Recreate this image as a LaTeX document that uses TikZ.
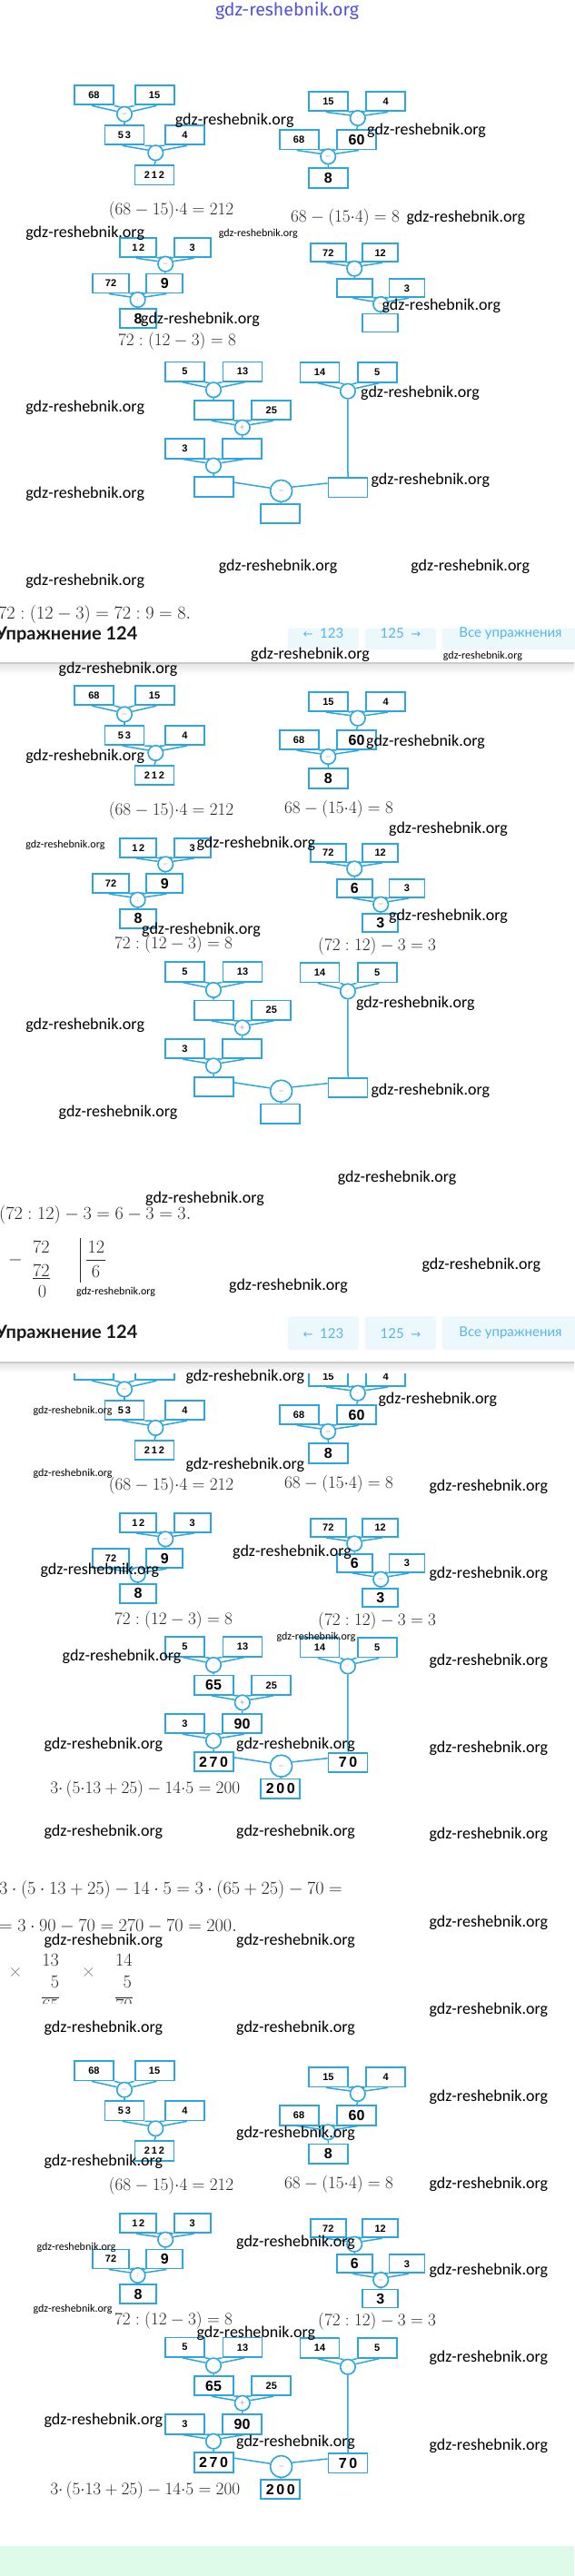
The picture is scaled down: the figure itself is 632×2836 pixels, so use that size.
\RequirePackage{fix-cm}
\documentclass[tikz,border=0pt]{standalone}
\usepackage{fontspec}
\usetikzlibrary{calc}
\newfontfamily\wmf{Carlito}
\newfontfamily\labf{Liberation Sans}
\newfontfamily\hdrf{Lato}
\newfontfamily\topf{Fira Sans}
\newfontfamily\djv{DejaVu Sans}
\definecolor{bl}{HTML}{2CA6DF}
\definecolor{btnbg}{HTML}{EDF8FD}
\definecolor{btntx}{HTML}{56B6E8}
\definecolor{mint}{HTML}{DDFBE8}
\definecolor{eqc}{HTML}{262626}
\definecolor{topbl}{HTML}{5050E0}
\newcommand\lab{\labf\bfseries\fontsize{11}{11}\selectfont}
\newcommand\fil[1]{{\labf\bfseries\fontsize{16}{16}\selectfont #1}}
\newcommand\ev[2]{\ifnum#1=1 \fil{#2}\fi}
\tikzset{
 bxa/.style={draw=bl, line width=1.9pt, minimum width=43pt, minimum height=21.5pt, inner sep=0pt, font=\lab, text=black},
 bxc/.style={bxa, minimum width=40pt, minimum height=21pt},
 bxd/.style={bxa, minimum width=39pt, minimum height=20pt},
 opc/.style={circle, draw=bl, line width=1.6pt, minimum size=16.5pt, inner sep=0pt, fill=white, font=\fontsize{8}{8}\selectfont, text=black!60},
 bigop/.style={opc, minimum size=24pt},
 ln/.style={draw=bl, line width=1.5pt},
 wm/.style={anchor=west, inner sep=0pt, font=\wmf\fontsize{18}{18}\selectfont, text=black},
 wms/.style={wm, font=\wmf\fontsize{12}{12}\selectfont},
 eq/.style={anchor=west, inner sep=0pt, font=\fontsize{19.2}{22}\selectfont, text=eqc},
 eqb/.style={eq, font=\fontsize{20.2}{23}\selectfont},
 btn/.style={fill=btnbg, rounded corners=3pt},
 btnt/.style={inner sep=0pt, text=btntx, font=\hdrf\fontsize{15}{15}\selectfont},
 hdr/.style={anchor=west, inner sep=0pt, font=\hdrf\bfseries\fontsize{20}{20}\selectfont, text=black!90},
}
\newcommand\fun[3]{%
 \draw[ln] ($(#1.south west)!0.45!(#1.south east)$) -- (#3.160);
 \draw[ln] (#1.south east) -- (#3.120);
 \draw[ln] (#2.south west) -- (#3.60);
 \draw[ln] ($(#2.south west)!0.55!(#2.south east)$) -- (#3.20);}
\newcommand\down[2]{\draw[ln] (#1.south) -- (#2.north);}
% #1 prefix, #2 dy, #3 D filled, #4 E filled
\newcommand\trees[4]{%
\begin{scope}[yshift=-#2pt]
% tree A
\node[bxa] (#1a1) at (103.4,104.7) {68};
\node[bxa] (#1a2) at (170.1,104.7) {15};
\node[opc] (#1ac) at (137,125.7) {$-$};
\node[bxa] (#1a3) at (137,148.7) {5\,3};
\node[bxa] (#1a4) at (203.5,148.7) {4};
\node[opc] (#1ad) at (171.3,168.3) {$\cdot$};
\node[bxa] (#1a5) at (170,192.8) {2\,1\,2};
\fun{#1a1}{#1a2}{#1ac}\down{#1ac}{#1a3}
\fun{#1a3}{#1a4}{#1ad}\down{#1ad}{#1a5}
% tree B
\node[bxa] (#1b1) at (361.4,111.7) {15};
\node[bxa] (#1b2) at (424.6,111.7) {4};
\node[opc] (#1bc) at (393.8,130) {$\cdot$};
\node[bxa] (#1b3) at (329.1,153.8) {68};
\node[bxa] (#1b4) at (392.6,153.8) {\fil{60}};
\node[opc] (#1bd) at (361.2,172.3) {$-$};
\node[bxa] (#1b5) at (361.4,196.2) {\fil{8}};
\fun{#1b1}{#1b2}{#1bc}\down{#1bc}{#1b4}
\fun{#1b3}{#1b4}{#1bd}\down{#1bd}{#1b5}
% tree C
\node[bxc] (#1c1) at (152.3,272.8) {1\,2};
\node[bxc] (#1c2) at (211.6,272.8) {3};
\node[opc] (#1cc) at (182.2,290.7) {$-$};
\node[bxc] (#1c3) at (122.1,312) {72};
\node[bxc] (#1c4) at (181.3,312) {\fil{9}};
\node[opc] (#1cd) at (151.6,330) {$:$};
\node[bxc] (#1c5) at (152,350.5) {\fil{8}};
\fun{#1c1}{#1c2}{#1cc}\down{#1cc}{#1c4}
\fun{#1c3}{#1c4}{#1cd}\down{#1cd}{#1c5}
% tree D
\node[bxd] (#1d1) at (361.3,278.3) {72};
\node[bxd] (#1d2) at (418.7,278.3) {12};
\node[opc] (#1dc) at (390.2,295.7) {$:$};
\node[bxd] (#1d3) at (390.4,317.3) {\ev{#3}{6}};
\node[bxd] (#1d4) at (448,317.3) {3};
\node[opc] (#1dd) at (419.2,335) {$-$};
\node[bxd] (#1d5) at (418.7,355.5) {\ev{#3}{3}};
\fun{#1d1}{#1d2}{#1dc}\down{#1dc}{#1d3}
\fun{#1d3}{#1d4}{#1dd}\down{#1dd}{#1d5}
% tree E
\node[bxa] (#1e1) at (203.5,409.2) {5};
\node[bxa] (#1e2) at (267,409.2) {13};
\node[opc] (#1ec1) at (235,429.3) {$\cdot$};
\node[bxa] (#1e3) at (235.1,451.5) {\ev{#4}{65}};
\node[bxa] (#1e4) at (298.8,451.5) {25};
\node[opc] (#1ec2) at (266.8,470.7) {$+$};
\node[bxa] (#1e5) at (203.5,493.8) {3};
\node[bxa] (#1e6) at (266.6,493.8) {\ev{#4}{90}};
\node[opc] (#1ec3) at (235,512.7) {$\cdot$};
\node[bxa] (#1e7) at (235.1,535.8) {\ev{#4}{2\,7\,0}};
\node[bxa] (#1e8) at (352,410) {14};
\node[bxa] (#1e9) at (415.1,410) {5};
\node[opc] (#1ec4) at (382.9,430.7) {$\cdot$};
\node[bxa] (#1e10) at (383,536.7) {\ev{#4}{7\,0}};
\node[bigop] (#1ec5) at (309.6,540.5) {$-$};
\node[bxa] (#1e11) at (308.8,565.5) {\ev{#4}{2\,0\,0}};
\fun{#1e1}{#1e2}{#1ec1}\down{#1ec1}{#1e3}
\fun{#1e3}{#1e4}{#1ec2}\down{#1ec2}{#1e6}
\fun{#1e5}{#1e6}{#1ec3}\down{#1ec3}{#1e7}
\fun{#1e8}{#1e9}{#1ec4}\down{#1ec4}{#1e10}
\draw[ln] ($(#1e7.north east)!0.3!(#1e7.south east)$) -- (#1ec5.165);
\draw[ln] (#1ec5.20) -- ($(#1e10.north west)!0.3!(#1e10.south west)$);
\down{#1ec5}{#1e11}
\end{scope}}
\begin{document}
\begin{tikzpicture}[x=1pt,y=-1pt]
\useasboundingbox (0,0) rectangle (632,2836);
\fill[white] (0,0) rectangle (632,2836);
% top watermark
\node[inner sep=0pt, text=topbl, font=\topf\fontsize{19.5}{19.5}\selectfont] (topwm) at (316,11.5) {gdz-reshebnik.org};
% panel 1
\trees{p}{0}{0}{0}
\node[eq] (p1eqa) at (119.7,231.7) {$(68-15){\cdot}4=212$};
\node[eq] (p1eqb) at (320,240) {$68-(15{\cdot}4)=8$};
\node[eq] (p1eqc) at (129.8,376) {$72:(12-3)=8$};
\node[eqb] (p1fin) at (-2,676) {$72:(12-3)=72:9=8.$};
% header 1
\fill[btn] (316.7,691.7) rectangle (395,715);
\fill[btn] (401.7,691.7) rectangle (480,715);
\fill[btn] (486.7,691.7) rectangle (640,715);
\node[btnt] (b1a) at (356,697.5) {{\djv\fontsize{13}{13}\selectfont ←}\ \ 123};
\node[btnt] (b1b) at (441,697.5) {125\ \ {\djv\fontsize{13}{13}\selectfont →}};
\node[btnt] (b1c) at (562,697.5) {Все упражнения};
\node[hdr] (h1) at (-5,699.3) {Упражнение 124};
\fill[black!20] (0,729) rectangle (632,731);
\shade[top color=black!10, bottom color=white] (0,731) rectangle (632,742);
% panel 2
\trees{q}{660.7}{1}{0}
\node[eq] (p2eqa) at (119.7,892.7) {$(68-15){\cdot}4=212$};
\node[eq] (p2eqb) at (313,890.7) {$68-(15{\cdot}4)=8$};
\node[eq] (p2eqc) at (126,1040) {$72:(12-3)=8$};
\node[eq] (p2eqd) at (350,1041.7) {$(72:12)-3=3$};
\node[eqb] (p2fin) at (-1,1337.3) {$(72:12)-3=6-3=3.$};
% long division
\node[eqb, anchor=center] (ldm) at (17,1387) {$-$};
\node[eqb, anchor=center] (ld1) at (45.5,1373.3) {$72$};
\node[eqb, anchor=center] (ld2) at (45.5,1399.3) {$72$};
\node[eqb, anchor=center] (ld3) at (46.4,1422.3) {$0$};
\node[eqb, anchor=center] (ld4) at (105.8,1373.3) {$12$};
\node[eqb, anchor=center] (ld5) at (105.6,1400) {$6$};
\draw[eqc, line width=0.8pt] (ld2.south west) ++(0,1) coordinate (u1) -- (u1 -| ld2.south east);
\coordinate (vb1) at (88.7,1363);
\coordinate (vb2) at (88.7,1411.7);
\draw[eqc, line width=0.8pt] (vb1) -- (vb2);
\coordinate (hl1) at (94.7,1387.3);
\coordinate (hl2) at (116,1387.3);
\draw[eqc, line width=0.8pt] (hl1) -- (hl2);
% header 2
\fill[btn] (316.7,1449.3) rectangle (395,1486);
\fill[btn] (401.7,1449.3) rectangle (480,1486);
\fill[btn] (486.7,1449.3) rectangle (640,1486);
\node[btnt] (b2a) at (356,1467.7) {{\djv\fontsize{13}{13}\selectfont ←}\ \ 123};
\node[btnt] (b2b) at (441,1467.7) {125\ \ {\djv\fontsize{13}{13}\selectfont →}};
\node[btnt] (b2c) at (562,1467.7) {Все упражнения};
\node[hdr] (h2) at (-5,1467.7) {Упражнение 124};
% panel 3
\trees{r}{1403.7}{1}{1}
\fill[white] (0,1487) rectangle (632,1500);
\fill[black!20] (0,1499) rectangle (632,1501);
\shade[top color=black!10, bottom color=white] (0,1501) rectangle (632,1511);
\node[eq] (p3eqa) at (119.7,1635.7) {$(68-15){\cdot}4=212$};
\node[eq] (p3eqb) at (313,1634) {$68-(15{\cdot}4)=8$};
\node[eq] (p3eqc) at (126,1783.3) {$72:(12-3)=8$};
\node[eq] (p3eqd) at (350,1785) {$(72:12)-3=3$};
\node[eq] (p3eqe) at (55.2,1969.3) {$3{\cdot}\,(5{\cdot}13+25)-14{\cdot}5=200$};
\node[eqb] (p3l1) at (-1,2080) {$3\cdot(5\cdot13+25)-14\cdot5=3\cdot(65+25)-70=$};
\node[eqb] (p3l2) at (-1,2120.7) {$=3\cdot90-70=270-70=200.$};
\begin{scope}
\clip (0,2140) rectangle (200,2205);
\node[eqb, anchor=center, text=black!50] (mx1) at (17,2171.7) {$\times$};
\node[eqb, anchor=center] (m11) at (55.6,2158.3) {$13$};
\node[eqb, anchor=center] (m12) at (60.5,2181.7) {$5$};
\node[eqb, anchor=center] (m13) at (55.6,2208) {$65$};
\coordinate (mu1) at (46,2199);
\coordinate (mu2) at (65,2199);
\draw[eqc, line width=0.8pt] (mu1) -- (mu2);
\node[eqb, anchor=center, text=black!50] (mx2) at (97.5,2171.7) {$\times$};
\node[eqb, anchor=center] (m21) at (136.5,2158.3) {$14$};
\node[eqb, anchor=center] (m22) at (140.3,2181.7) {$5$};
\node[eqb, anchor=center] (m23) at (136.5,2208) {$70$};
\coordinate (mv1) at (127,2199);
\coordinate (mv2) at (146,2199);
\draw[eqc, line width=0.8pt] (mv1) -- (mv2);
\end{scope}
% panel 4
\trees{s}{2175}{1}{1}
\node[eq] (p4eqa) at (119.7,2406.7) {$(68-15){\cdot}4=212$};
\node[eq] (p4eqb) at (313,2405) {$68-(15{\cdot}4)=8$};
\node[eq] (p4eqc) at (126,2555) {$72:(12-3)=8$};
\node[eq] (p4eqd) at (350,2556) {$(72:12)-3=3$};
\node[eq] (p4eqe) at (55.2,2741.7) {$3{\cdot}\,(5{\cdot}13+25)-14{\cdot}5=200$};
\fill[mint] (0,2802.7) rectangle (632,2836);
% watermarks
\foreach \x/\y [count=\i] in {192.7/133, 404/144, 447.4/240, 28.2/256.7, 420.4/336.7, 155/352, 397/432.3, 28.2/448.3, 408.3/529, 28.2/544, 240.6/624, 452.2/624, 28.2/640, 276/720.5, 64.5/736.7,
 28.2/832.7, 403/816.7, 428/912.3, 216.4/928.3, 428/1008.3, 156/1024, 391.8/1104.3, 28.2/1128.3, 408.3/1200.7, 64.5/1224.3, 371.6/1296.7, 160/1320, 252/1416, 464.3/1392.3,
 204.4/1516, 416.4/1540.7, 204.4/1612.3, 472.4/1636.7, 256/1708.3, 44.3/1728.3, 472.4/1732.3, 68.5/1824, 472.4/1828.3, 48.4/1920.7, 260/1920.7, 472.4/1925, 48.4/2016.7, 260/2016.7, 472.4/2020, 472.4/2116.7, 48.4/2136.7, 260/2136.7, 472.4/2212.3, 48.4/2232.7, 260/2232.7,
 472.4/2308.3, 260/2349, 48.4/2380, 472.4/2405, 260/2468.3, 472.4/2500, 216.4/2568.3, 472.4/2596, 48.4/2665, 260/2688.3, 472.4/2692.3}
 {\node[wm] (wl\i) at (\x,\y) {gdz-reshebnik.org};}
\foreach \x/\y [count=\i] in {240.6/257.7, 487.7/722.3, 28.2/930, 83.8/1422.3, 36.3/1553.3, 36.3/1622.3, 304.3/1802.3, 40.3/2474, 36.3/2542.3}
 {\node[wms] (ws\i) at (\x,\y) {gdz-reshebnik.org};}
\end{tikzpicture}
\end{document}
